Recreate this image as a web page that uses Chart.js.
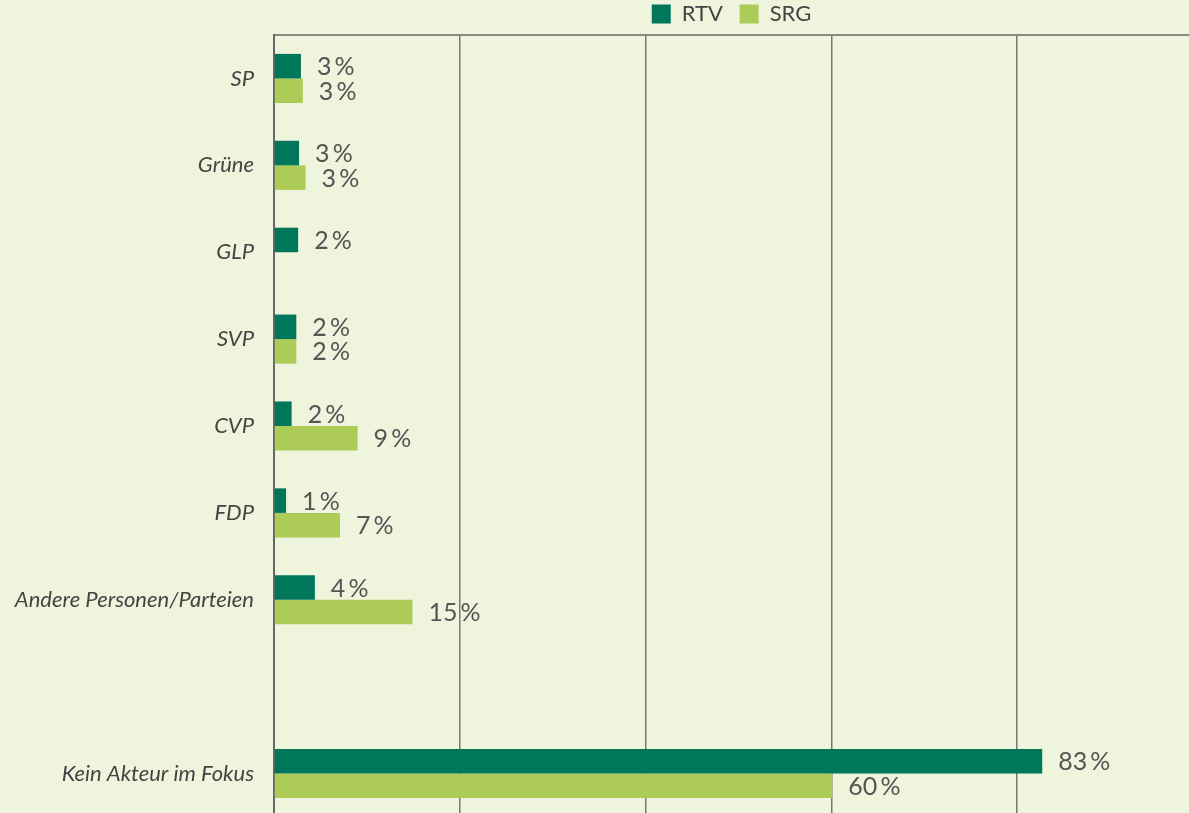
<!DOCTYPE html>
<html>
<head>
<meta charset="utf-8">
<script src="https://cdn.jsdelivr.net/npm/chart.js@4/dist/chart.umd.min.js"></script>
<style>
html,body{margin:0;padding:0;background:#EFF4DC;overflow:hidden;}
#wrap{width:1189px;height:813px;position:relative;overflow:hidden;}
</style>
</head>
<body>
<div id="wrap"><canvas id="c" width="1189" height="817"></canvas></div>
<script>
const categories = ["SP", "Grüne", "GLP", "SVP", "CVP", "FDP", "Andere Personen/Parteien", "", "Kein Akteur im Fokus"];
const rtvValues = [2.9, 2.7, 2.6, 2.4, 1.9, 1.3, 4.4, null, 82.7];
const srgValues = [3.1, 3.4, null, 2.4, 9.0, 7.1, 14.9, null, 60.1];
const rtvLabels = ["3%", "3%", "2%", "2%", "2%", "1%", "4%", "", "83%"];
const srgLabels = ["3%", "3%", "", "2%", "9%", "7%", "15%", "", "60%"];
const seriesNames = ["RTV", "SRG"];
const gridTicks = [0, 20, 40, 60, 80];

const RTV_COLOR = "#00775A";
const SRG_COLOR = "#ADCB57";

const valueLabelPlugin = {
  id: "valueLabels",
  afterDatasetsDraw(chart) {
    const ctx = chart.ctx;
    const labelSets = [rtvLabels, srgLabels];
    ctx.save();
    ctx.font = "25px Lato";
    ctx.fillStyle = "#555555";
    ctx.textAlign = "left";
    ctx.textBaseline = "middle";
    chart.data.datasets.forEach((ds, di) => {
      const meta = chart.getDatasetMeta(di);
      meta.data.forEach((bar, i) => {
        const txt = labelSets[di][i];
        if (!txt || ds.data[i] == null) return;
        ctx.fillText(txt.replace("%", "\u2009%"), bar.x + 16, bar.y + 1);
      });
    });
    ctx.restore();
  }
};

new Chart(document.getElementById("c"), {
  type: "bar",
  data: {
    labels: categories,
    datasets: [
      { label: seriesNames[0], data: rtvValues, backgroundColor: RTV_COLOR, categoryPercentage: 0.565, barPercentage: 1.0 },
      { label: seriesNames[1], data: srgValues, backgroundColor: SRG_COLOR, categoryPercentage: 0.565, barPercentage: 1.0 }
    ]
  },
  options: {
    indexAxis: "y",
    responsive: false,
    animation: false,
    layout: { padding: { top: 0, right: 0, bottom: 0, left: 0 } },
    plugins: {
      legend: {
        position: "top",
        fullSize: false,
        labels: {
          boxWidth: 19,
          boxHeight: 19,
          padding: 3,
          color: "#444444",
          font: { family: "Lato", size: 22 },
          generateLabels(chart) {
            const items = Chart.defaults.plugins.legend.labels.generateLabels(chart);
            items.forEach((it, i) => {
              it.lineWidth = 0;
              if (i < items.length - 1) it.text = it.text + "\u2002\u2009";
            });
            return items;
          }
        }
      },
      tooltip: { enabled: false }
    },
    scales: {
      x: {
        min: 0,
        max: 98.5,
        afterBuildTicks(scale) { scale.ticks = gridTicks.map(v => ({ value: v })); },
        afterFit(scale) { scale.height = 0; },
        ticks: { display: false },
        grid: { color: "#777777", lineWidth: 1.5, drawTicks: false },
        border: { display: false }
      },
      x2: {
        position: "top",
        min: 0,
        max: 98.5,
        afterFit(scale) { scale.height = 0; },
        ticks: { display: false },
        grid: { display: false, drawTicks: false },
        border: { display: true, color: "#8a8a85", width: 2 }
      },
      y: {
        afterFit(scale) {
          scale.width = 274;
          scale.paddingTop = 0;
          scale.paddingBottom = 0;
        },
        ticks: {
          color: "#444444",
          padding: 20,
          font: { family: "Lato", size: 22, style: "italic" }
        },
        grid: { display: false, drawTicks: false },
        border: { display: true, color: "#666666", width: 2 }
      }
    }
  },
  plugins: [valueLabelPlugin]
});
</script>
</body>
</html>
